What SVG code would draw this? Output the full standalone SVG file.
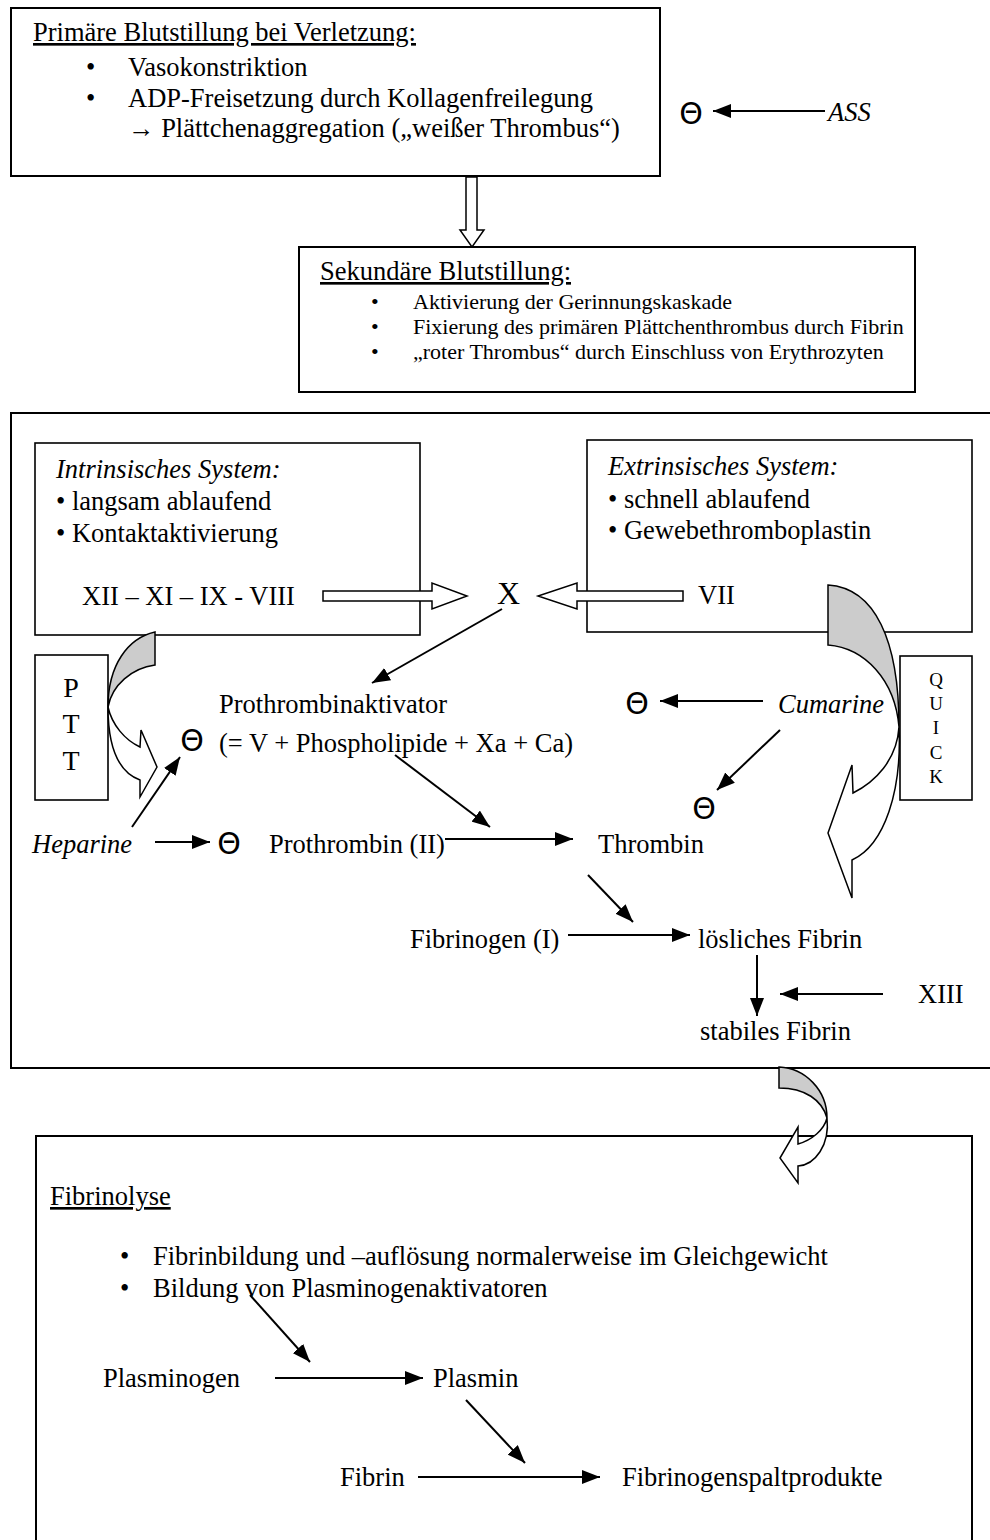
<svg xmlns="http://www.w3.org/2000/svg" width="990" height="1540" viewBox="0 0 990 1540">
<style>
text{font-family:"Liberation Serif","Times New Roman",serif;font-size:26.5px;fill:#000}
.it{font-style:italic}
.s22{font-size:22px}
.th{font-family:"DejaVu Sans","Liberation Sans",Arial,sans-serif;font-size:30px;text-anchor:middle}
.box{fill:#fff;stroke:#000;stroke-width:2}
.ibox{fill:#fff;stroke:#000;stroke-width:1.6}
.ln{stroke:#000;stroke-width:2;fill:none}
.hol{fill:#fff;stroke:#000;stroke-width:1.5;stroke-linejoin:miter}
.gr{fill:#cccccc;stroke:#000;stroke-width:1.5}
.wh{fill:#fff;stroke:#000;stroke-width:1.5}
</style>
<defs>
<marker id="ah" viewBox="0 0 18 14" refX="18" refY="7" markerWidth="18" markerHeight="14" markerUnits="userSpaceOnUse" orient="auto">
<path d="M0,0 L18,7 L0,14 Z" fill="#000"/>
</marker>
</defs>

<g id="primaer">
<rect class="box" x="11" y="8" width="649" height="168"/>
<text x="33" y="41" text-decoration="underline">Primäre Blutstillung bei Verletzung:</text>
<text x="86" y="76">•</text><text x="128" y="76">Vasokonstriktion</text>
<text x="86" y="107">•</text><text x="128" y="107">ADP-Freisetzung durch Kollagenfreilegung</text>
<text x="128" y="137">→ Plättchenaggregation („weißer Thrombus“)</text>
</g>

<g id="ass">
<text class="th" x="691" y="124">Θ</text>
<text class="it" x="828" y="121">ASS</text>
</g>

<g id="sekundaer">
<rect class="box" x="299" y="247" width="616" height="145"/>
<text x="320" y="280" text-decoration="underline">Sekundäre Blutstillung:</text>
<text class="s22" x="371" y="309">•</text><text class="s22" x="413" y="309">Aktivierung der Gerinnungskaskade</text>
<text class="s22" x="371" y="334">•</text><text class="s22" x="413" y="334">Fixierung des primären Plättchenthrombus durch Fibrin</text>
<text class="s22" x="371" y="359">•</text><text class="s22" x="413" y="359">„roter Thrombus“ durch Einschluss von Erythrozyten</text>
</g>

<g id="gerinnung">
<rect class="box" x="11" y="413" width="995" height="655"/>
</g>

<g id="intrinsisch">
<rect class="ibox" x="35" y="443" width="385" height="192"/>
<text class="it" x="56" y="478">Intrinsisches System:</text>
<text x="56" y="510">• langsam ablaufend</text>
<text x="56" y="542">• Kontaktaktivierung</text>
<text x="82" y="605">XII – XI – IX - VIII</text>
</g>

<g id="extrinsisch">
<rect class="ibox" x="587" y="440" width="385" height="192"/>
<text class="it" x="608" y="475">Extrinsisches System:</text>
<text x="608" y="508">• schnell ablaufend</text>
<text x="608" y="539">• Gewebethromboplastin</text>
<text x="698" y="604">VII</text>
</g>

<g id="faktorX">
<text x="497" y="604" style="font-size:32px">X</text>
</g>

<g id="ptt">
<rect class="ibox" x="35" y="655" width="73" height="145"/>
<text x="71" y="697" style="font-size:28px;text-anchor:middle">P</text>
<text x="71" y="733" style="font-size:28px;text-anchor:middle">T</text>
<text x="71" y="770" style="font-size:28px;text-anchor:middle">T</text>
</g>

<g id="quick">
<rect class="ibox" x="900" y="656" width="72" height="144"/>
<text x="936" y="686" style="font-size:19px;text-anchor:middle">Q</text>
<text x="936" y="710" style="font-size:19px;text-anchor:middle">U</text>
<text x="936" y="734" style="font-size:19px;text-anchor:middle">I</text>
<text x="936" y="759" style="font-size:19px;text-anchor:middle">C</text>
<text x="936" y="783" style="font-size:19px;text-anchor:middle">K</text>
</g>

<g id="prothrombinaktivator">
<text x="219" y="713">Prothrombinaktivator</text>
<text x="219" y="752">(= V + Phospholipide + Xa + Ca)</text>
</g>

<g id="hemmung">
<text class="th" x="192" y="751">Θ</text>
<text class="th" x="229" y="854">Θ</text>
<text class="th" x="637" y="714">Θ</text>
<text class="th" x="704" y="819">Θ</text>
</g>

<g id="heparine"><text class="it" x="32" y="853">Heparine</text></g>
<g id="cumarine"><text class="it" x="778" y="713">Cumarine</text></g>
<g id="prothrombin"><text x="269" y="853">Prothrombin (II)</text></g>
<g id="thrombin"><text x="598" y="853">Thrombin</text></g>
<g id="fibrinogen"><text x="410" y="948">Fibrinogen (I)</text></g>
<g id="loeslichesFibrin"><text x="698" y="948">lösliches Fibrin</text></g>
<g id="stabilesFibrin"><text x="700" y="1040">stabiles Fibrin</text></g>
<g id="xiii"><text x="918" y="1003">XIII</text></g>

<g id="fibrinolyse">
<rect class="box" x="36" y="1136" width="936" height="430"/>
<text x="50" y="1205" text-decoration="underline">Fibrinolyse</text>
<text x="120" y="1265">•</text><text x="153" y="1265">Fibrinbildung und –auflösung normalerweise im Gleichgewicht</text>
<text x="120" y="1297">•</text><text x="153" y="1297">Bildung von Plasminogenaktivatoren</text>
<text x="103" y="1387">Plasminogen</text>
<text x="433" y="1387">Plasmin</text>
<text x="340" y="1486">Fibrin</text>
<text x="622" y="1486">Fibrinogenspaltprodukte</text>
</g>

<g id="connectors">
<line class="ln" x1="825" y1="111" x2="713" y2="111" marker-end="url(#ah)"/>
<polygon class="hol" points="466,177 477,177 477,230 484,230 472,247 460,230 466,230"/>
<polygon class="hol" points="323,591 432,591 432,583 467,596 432,609 432,601 323,601"/>
<polygon class="hol" points="683,591 577,591 577,583 538,596 577,609 577,601 683,601"/>
<line class="ln" x1="502" y1="609" x2="372" y2="683" marker-end="url(#ah)"/>
<line class="ln" x1="395" y1="755" x2="490" y2="827" marker-end="url(#ah)"/>
<line class="ln" x1="132" y1="827" x2="180" y2="757" marker-end="url(#ah)"/>
<line class="ln" x1="155" y1="842" x2="210" y2="842" marker-end="url(#ah)"/>
<line class="ln" x1="445" y1="839" x2="573" y2="839" marker-end="url(#ah)"/>
<line class="ln" x1="763" y1="701" x2="660" y2="701" marker-end="url(#ah)"/>
<line class="ln" x1="780" y1="730" x2="717" y2="790" marker-end="url(#ah)"/>
<line class="ln" x1="588" y1="875" x2="633" y2="922" marker-end="url(#ah)"/>
<line class="ln" x1="568" y1="935" x2="690" y2="935" marker-end="url(#ah)"/>
<line class="ln" x1="757" y1="955" x2="757" y2="1016" marker-end="url(#ah)"/>
<line class="ln" x1="883" y1="994" x2="780" y2="994" marker-end="url(#ah)"/>
<line class="ln" x1="250" y1="1295" x2="310" y2="1362" marker-end="url(#ah)"/>
<line class="ln" x1="275" y1="1378" x2="423" y2="1378" marker-end="url(#ah)"/>
<line class="ln" x1="466" y1="1400" x2="525" y2="1463" marker-end="url(#ah)"/>
<line class="ln" x1="418" y1="1477" x2="600" y2="1477" marker-end="url(#ah)"/>
<path class="gr" d="M155,632 C128,638 108,665 108,707 C112,685 132,668 155,665 Z"/>
<path class="wh" d="M108,707 C112,725 125,740 140,747 L141,730 L157,767 L140,797 L140,780 C118,772 108,745 108,707 Z"/>
<path class="gr" d="M828,585 C875,588 899,640 899,727 C895,680 865,648 828,645 Z"/>
<path class="wh" d="M899,727 C902,790 885,845 852,860 L852,898 L828,833 L852,765 L853,793 C875,782 897,760 899,727 Z"/>
<path class="gr" d="M779,1067 C805,1068 827,1090 827,1118 C822,1100 805,1088 779,1088 Z"/>
<path class="wh" d="M827,1118 C830,1145 815,1165 798,1166 L798,1183 L780,1158 L798,1127 L798,1144 C812,1140 824,1130 827,1118 Z"/>
</g>
</svg>
